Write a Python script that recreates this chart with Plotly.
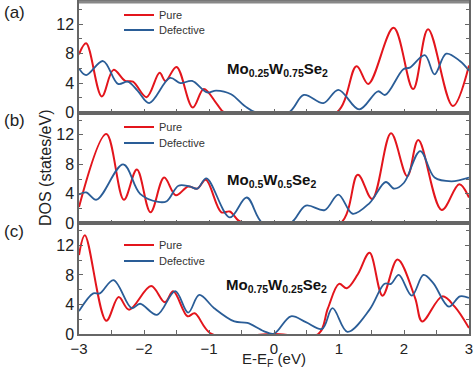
import plotly.graph_objects as go
from plotly.subplots import make_subplots

# ---------------- data ----------------
# Panel (a) Mo0.25W0.75Se2
a_pure_x = [-3, -2.89, -2.65, -2.47, -2.29, -2.17, -1.96, -1.76, -1.67, -1.50, -1.25, -1.08, -0.88, -0.76, 0, 0.96, 1.27, 1.45, 1.84, 2.14, 2.37, 2.75, 3]
a_pure_y = [7.9, 9.4, 2.2, 5.8, 4.3, 4.2, 2.1, 5.4, 4.3, 6.2, 0.7, 3.2, 1.2, 0, 0, 0, 6.3, 3.9, 11.5, 3.2, 11.3, 0.9, 6.4]
a_def_x = [-3, -2.89, -2.63, -2.40, -2.25, -2.1, -1.92, -1.60, -1.44, -1.26, -1.03, -0.89, -0.66, -0.45, -0.27, 0.22, 0.46, 0.76, 0.99, 1.31, 1.60, 1.71, 1.99, 2.09, 2.32, 2.47, 2.65, 2.86, 3]
a_def_y = [6.0, 5.1, 7.0, 3.9, 4.2, 3.0, 1.3, 4.7, 4.0, 4.3, 2.75, 3.0, 2.5, 0.9, 0, 0, 2.4, 1.3, 3.1, 0.45, 2.9, 2.4, 5.9, 6.1, 7.8, 5.2, 8.0, 7.0, 5.7]

# Panel (b) Mo0.5W0.5Se2
b_pure_x = [-3, -2.58, -2.31, -2.11, -1.90, -1.69, -1.51, -1.32, -1.18, -1.05, -0.81, -0.68, -0.55, -0.45, 0, 1.02, 1.29, 1.51, 1.80, 2.05, 2.22, 2.58, 2.85, 3]
b_pure_y = [2.2, 12.1, 3.2, 7.3, 1.5, 6.2, 3.8, 5.0, 4.7, 5.9, 1.5, 1.6, 0.4, 0, 0, 0, 6.6, 3.3, 12.2, 6.4, 11.3, 1.8, 5.3, 3.5]
b_def_x = [-3, -2.89, -2.73, -2.32, -2.06, -1.78, -1.65, -1.47, -1.30, -1.18, -1.04, -0.68, -0.42, -0.17, 0.25, 0.49, 0.78, 0.99, 1.21, 1.47, 1.72, 1.85, 2.0, 2.25, 2.47, 2.73, 3]
b_def_y = [3.9, 4.2, 3.2, 8.0, 4.0, 2.9, 3.0, 5.1, 5.0, 4.7, 6.1, 0.8, 3.5, 0, 0, 2.4, 1.8, 3.9, 1.3, 2.75, 5.6, 4.7, 5.5, 9.8, 6.2, 5.7, 6.2]

# Panel (c) Mo0.75W0.25Se2
c_pure_x = [-3, -2.91, -2.58, -2.39, -2.23, -1.89, -1.68, -1.55, -1.33, -1.22, -0.96, 0, 0.68, 0.83, 1.0, 1.12, 1.29, 1.47, 1.67, 1.90, 2.17, 2.28, 2.59, 2.78, 3]
c_pure_y = [10.7, 13.4, 1.8, 5.0, 3.3, 6.5, 4.3, 5.8, 2.4, 2.8, 0, 0, 0, 3.5, 6.8, 6.2, 8.1, 11.0, 5.2, 10.1, 4.9, 1.7, 5.1, 3.7, 0.8]
c_def_x = [-3, -2.78, -2.68, -2.47, -2.19, -2.06, -1.80, -1.52, -1.32, -1.15, -0.92, -0.61, -0.41, -0.16, 0, 0.26, 0.49, 0.74, 0.90, 1.13, 1.47, 1.70, 1.80, 1.92, 2.12, 2.30, 2.45, 2.69, 2.86, 3]
c_def_y = [3.1, 5.5, 5.5, 7.3, 3.5, 4.1, 2.6, 5.8, 2.9, 5.3, 3.5, 1.7, 1.5, 0.4, 0.05, 2.4, 1.6, 0.7, 3.5, 0.3, 3.3, 6.8, 6.8, 8.0, 5.2, 8.0, 6.9, 3.7, 5.1, 4.9]

panel_labels = ["(a)", "(b)", "(c)"]
compounds = ["<b>Mo<sub>0.25</sub>W<sub>0.75</sub>Se<sub>2</sub></b>",
             "<b>Mo<sub>0.5</sub>W<sub>0.5</sub>Se<sub>2</sub></b>",
             "<b>Mo<sub>0.75</sub>W<sub>0.25</sub>Se<sub>2</sub></b>"]
series_names = ["Pure", "Defective"]
x_title = "E-E<sub>F</sub> (eV)"
y_title = "DOS (states/eV)"
x_tick_vals = [-3, -2, -1, 0, 1, 2, 3]
y_tick_vals = [0, 4, 8, 12]

RED = "#e3151c"
BLUE = "#2a5d97"
FONT = "Liberation Sans, Arial, sans-serif"

fig = make_subplots(rows=3, cols=1, shared_xaxes=True, vertical_spacing=0)

panels = [
    (a_pure_x, a_pure_y, a_def_x, a_def_y),
    (b_pure_x, b_pure_y, b_def_x, b_def_y),
    (c_pure_x, c_pure_y, c_def_x, c_def_y),
]

W, H = 474, 370
ml, mr, mt, mb = 79, 5, 2, 36
plot_h = H - mt - mb

def py2paper(y_px):
    return 1 - (y_px - mt) / plot_h

def px2paper(x_px):
    return (x_px - ml) / (W - ml - mr)

# one legend per entry so the entries can sit close together as in the reference
legend_centers = [(15, 30), (127, 143), (245, 261)]
layout_legends = {}
for i, (px, py, dx, dy) in enumerate(panels):
    r = i + 1
    lid_p = "legend" if i == 0 else f"legend{2 * i + 1}"
    lid_d = f"legend{2 * i + 2}"
    fig.add_trace(go.Scatter(x=px, y=py, mode="lines", name=series_names[0],
                             line=dict(color=RED, width=2, shape="spline", smoothing=1.0),
                             legend=lid_p, showlegend=True), row=r, col=1)
    fig.add_trace(go.Scatter(x=dx, y=dy, mode="lines", name=series_names[1],
                             line=dict(color=BLUE, width=1.8, shape="spline", smoothing=1.0),
                             legend=lid_d, showlegend=True), row=r, col=1)
    for lid, yc in zip((lid_p, lid_d), legend_centers[i]):
        layout_legends[lid] = dict(x=px2paper(119), y=py2paper(yc), xanchor="left", yanchor="middle",
                                   bgcolor="rgba(0,0,0,0)", font=dict(size=11, color="#333", family=FONT),
                                   itemwidth=30)

axis_col = "#666666"
for r in range(1, 4):
    fig.update_xaxes(range=[-3, 3], tickvals=x_tick_vals, ticks="inside", ticklen=4,
                     tickcolor=axis_col, showline=True, linecolor=axis_col, linewidth=1.5,
                     mirror=True, showgrid=False, zeroline=False,
                     minor=dict(dtick=0.5, ticks="inside", ticklen=4, tickcolor=axis_col, showgrid=False),
                     showticklabels=(r == 3), tickfont=dict(size=15, color="#222", family=FONT),
                     automargin=False, row=r, col=1)
    fig.update_yaxes(range=[0, 15], tickvals=y_tick_vals, ticks="inside", ticklen=4,
                     tickcolor=axis_col, showline=True, linecolor=axis_col, linewidth=1.5,
                     mirror="ticks", showgrid=False, zeroline=False,
                     minor=dict(tickvals=[2, 6, 10, 14], ticks="inside", ticklen=3, tickcolor=axis_col, showgrid=False),
                     tickfont=dict(size=16, color="#222", family=FONT),
                     automargin=False, row=r, col=1)

annotations = []
label_y = [12, 120, 232]
comp_y = [69, 180, 285]
comp_x = [277, 271, 276]
for i in range(3):
    annotations.append(dict(text=panel_labels[i], x=0, y=py2paper(label_y[i]), xref="paper", yref="paper",
                            xshift=-(ml - 2), showarrow=False, xanchor="left", yanchor="middle",
                            font=dict(size=17, color="#222", family=FONT)))
    annotations.append(dict(text=compounds[i], x=px2paper(comp_x[i]), y=py2paper(comp_y[i]), xref="paper", yref="paper",
                            showarrow=False, xanchor="center", yanchor="middle",
                            font=dict(size=15, color="#111", family=FONT)))
annotations.append(dict(text=y_title, x=0, y=py2paper(168), xref="paper", yref="paper",
                        xshift=-(ml - 45), showarrow=False, textangle=-90, xanchor="center", yanchor="middle",
                        font=dict(size=16, color="#222", family=FONT)))
annotations.append(dict(text=x_title, x=0.5, y=py2paper(370), xref="paper", yref="paper",
                        showarrow=False, xanchor="center", yanchor="bottom", borderpad=0,
                        font=dict(size=15, color="#222", family=FONT)))

# thicker grey frame edge along the top of the first panel
shapes = [dict(type="line", xref="x domain", yref="y domain", x0=0, x1=1, y0=1, y1=1,
               line=dict(color="#888888", width=3))]

fig.update_layout(width=W, height=H, margin=dict(l=ml, r=mr, t=mt, b=mb, autoexpand=False),
                  plot_bgcolor="white", paper_bgcolor="white", showlegend=True,
                  annotations=annotations, shapes=shapes, **layout_legends)

fig.write_html("out.html", config={"displayModeBar": False},
               post_script="document.body.style.margin='0';")
